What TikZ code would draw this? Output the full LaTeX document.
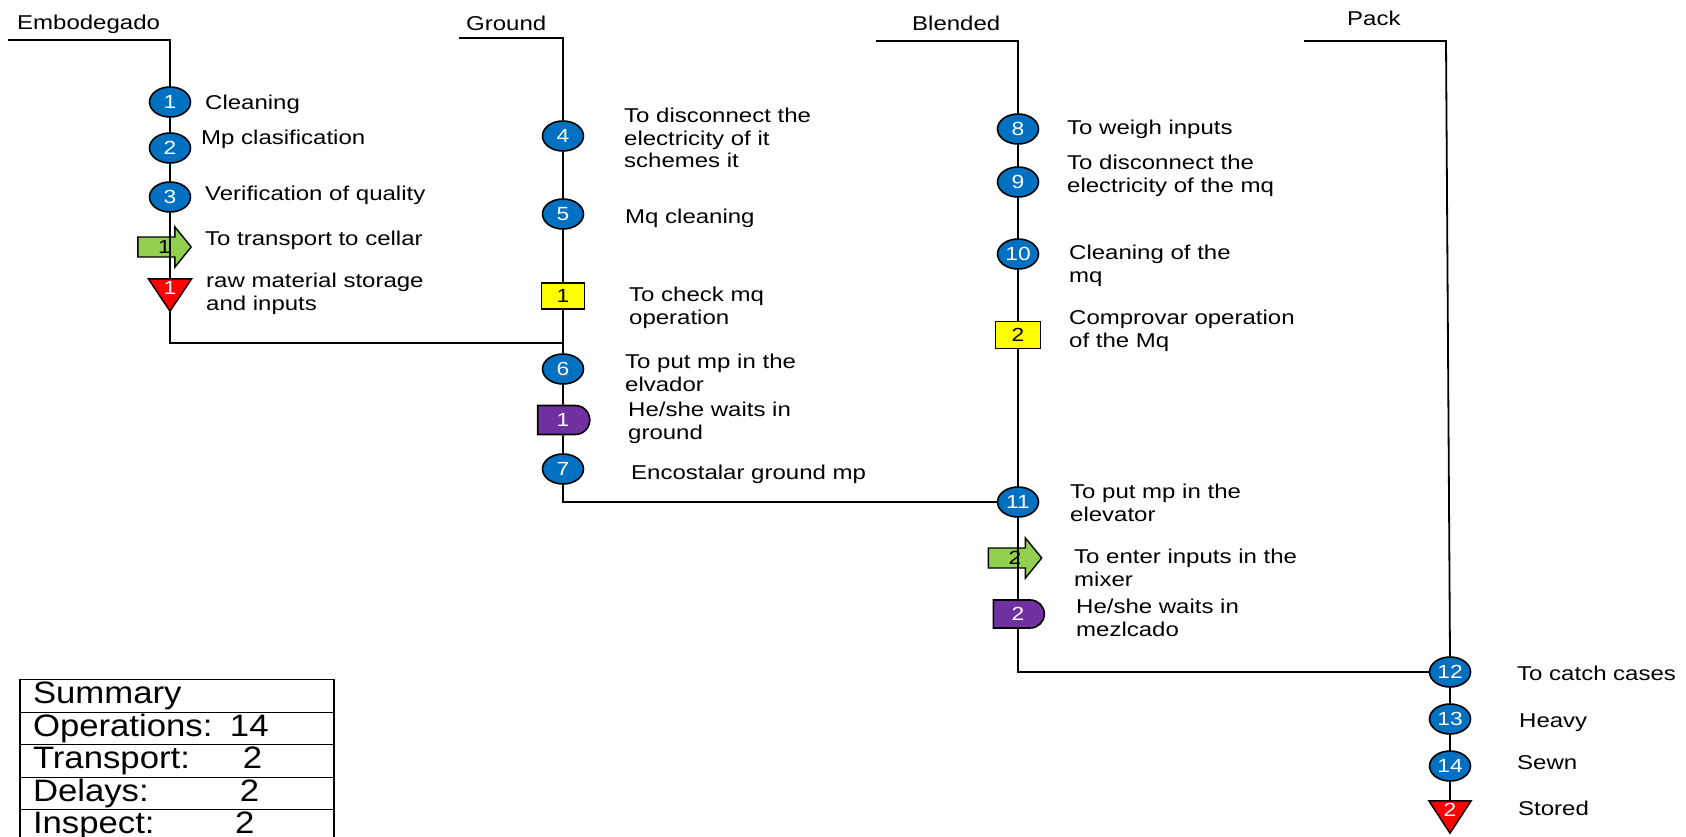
\documentclass[tikz,border=0pt]{standalone}
\usepackage{fontspec}
\setmainfont{Liberation Sans}
\newfontfamily\stretchfont[FakeStretch=1.2]{Liberation Sans}
\newfontfamily\tblfont[FakeStretch=1.12]{Liberation Sans}
\usetikzlibrary{shapes.geometric,shapes.misc,calc}
\pgfdeclarelayer{background}
\pgfsetlayers{background,main}
\definecolor{opblue}{HTML}{0070C0}
\definecolor{trgreen}{HTML}{92D050}
\definecolor{inyellow}{HTML}{FFFF00}
\definecolor{dlpurple}{HTML}{7030A0}
\definecolor{stred}{HTML}{FF0000}
\newcommand{\labsize}{\fontsize{20}{22.5}\selectfont\stretchfont}
\newcommand{\numsize}{\fontsize{19}{19}\selectfont\stretchfont}
\newcommand{\tabsize}{\fontsize{31}{31}\selectfont\tblfont}
\tikzset{
  conn/.style={line width=1.8pt, draw=black},
  oper/.style={ellipse, draw=black, line width=1.6pt, fill=opblue, minimum width=41pt, minimum height=30pt, inner sep=0pt, text=white, font=\numsize},
  insp/.style={rectangle, draw=black, line width=1.6pt, fill=inyellow, minimum width=43pt, minimum height=26pt, inner sep=0pt, text=black, font=\numsize},
  delayd/.style={rounded rectangle, rounded rectangle left arc=none, draw=black, line width=1.6pt, fill=dlpurple, minimum width=52pt, minimum height=29pt, inner sep=0pt, text=white, font=\numsize},
  transbox/.style={rectangle, minimum width=53pt, minimum height=40pt, inner sep=0pt, text=black, font=\numsize},
  storebox/.style={rectangle, minimum width=43pt, minimum height=32pt, inner sep=0pt, text depth=15pt, text=white, font=\numsize},
  transfill/.style={fill=trgreen, draw=black, line width=1.4pt, line join=miter},
  storefill/.style={fill=stred, draw=black, line width=1.4pt, line join=miter},
  lab/.style={anchor=west, align=left, inner sep=0pt, font=\labsize},
  tabrow/.style={draw=black, line width=1.4pt, minimum width=314pt, minimum height=32.5pt, inner xsep=13pt, inner ysep=0pt, text width=288pt, align=left, font=\tabsize},
}
\begin{document}
\begin{tikzpicture}[x=1pt,y=-1pt]
\begin{pgfonlayer}{background}
\fill[white] (0,0) rectangle (1686,837);
\end{pgfonlayer}
\useasboundingbox (0,0) rectangle (1686,837);

% ---------- headers ----------
\node[lab] (hE) at (17,24) {Embodegado};
\node[lab] (hG) at (466,23) {Ground};
\node[lab] (hB) at (912,23) {Blended};
\node[lab] (hP) at (1347,18) {Pack};
\coordinate (eh) at (8,40);   \coordinate (ec) at (170,40);
\coordinate (gh) at (459,38); \coordinate (gc) at (563,38);
\coordinate (bh) at (876,41); \coordinate (bc) at (1018,41);
\coordinate (ph) at (1304,41); \coordinate (pc) at (1446,41);

% ---------- Embodegado ----------
\node[oper] (c1) at (170,102) {1};
\node[oper] (c2) at (170,148) {2};
\node[oper] (c3) at (170,197) {3};
\node[transbox] (a1) at (164.5,247) {1};
\node[storebox] (s1) at (170,295) {1};
\coordinate (j1) at (563,343);

% ---------- Ground ----------
\node[oper] (c4) at (563,136) {4};
\node[oper] (c5) at (563,214) {5};
\node[insp] (q1) at (563,296) {1};
\node[oper] (c6) at (563,369) {6};
\node[delayd] (d1) at (563,420) {1};
\node[oper] (c7) at (563,469) {7};

% ---------- Blended ----------
\node[oper] (c8) at (1018,129) {8};
\node[oper] (c9) at (1018,182) {9};
\node[oper] (c10) at (1018,254) {10};
\node[insp, minimum width=45pt, minimum height=27pt] (q2) at (1018,335) {2};
\node[oper] (c11) at (1018,502) {11};
\node[transbox] (a2) at (1015,558) {2};
\node[delayd, minimum width=51pt, minimum height=28pt] (d2) at (1018,614) {2};

% ---------- Pack ----------
\node[oper] (c12) at (1450,672) {12};
\node[oper] (c13) at (1450,719) {13};
\node[oper] (c14) at (1450,766) {14};
\node[storebox, minimum width=42pt] (s2) at (1450,817) {2};

% ---------- symbol bodies (behind the numbers) ----------
\begin{pgfonlayer}{background}
\foreach \a in {a1,a2}{
  \filldraw[transfill] ($(\a.west)+(0,-10)$) -- ($(\a.west)+(37,-10)$) -- ($(\a.north west)+(37,0)$)
    -- (\a.east) -- ($(\a.south west)+(37,0)$) -- ($(\a.west)+(37,10)$) -- ($(\a.west)+(0,10)$) -- cycle;
}
\foreach \s in {s1,s2}{
  \filldraw[storefill] (\s.north west) -- (\s.north east) -- (\s.south) -- cycle;
}
\end{pgfonlayer}

% ---------- connectors ----------
\draw[conn] (eh) -- (ec) -- (c1.north);
\draw[conn] (c1) -- (c2);
\draw[conn] (c2) -- (c3);
\draw[conn] (c3.south) -- (c3.south |- s1.north);
\draw[conn] (s1.south) |- (j1);

\draw[conn] (gh) -- (gc) -- (c4.north);
\draw[conn] (c4) -- (c5);
\draw[conn] (c5) -- (q1);
\draw[conn] (q1) -- (c6);
\draw[conn] (c6) -- (d1);
\draw[conn] (d1) -- (c7);
\draw[conn] (c7.south) |- (c11.west);

\draw[conn] (bh) -- (bc) -- (c8.north);
\draw[conn] (c8) -- (c9);
\draw[conn] (c9) -- (c10);
\draw[conn] (c10) -- (q2);
\draw[conn] (q2) -- (c11);
\draw[conn] (c11.south) -- (c11.south |- d2.north);
\draw[conn] (d2.south) |- (c12.west);

\draw[conn] (ph) -- (pc) -- (c12.north);
\draw[conn] (c12) -- (c13);
\draw[conn] (c13) -- (c14);
\draw[conn] (c14) -- (s2.north);

% ---------- labels ----------
\node[lab] (L1) at (205,104) {Cleaning};
\node[lab] (L2) at (201,139) {Mp clasification};
\node[lab] (L3) at (205,195) {Verification of quality};
\node[lab] (L4) at (205,240) {To transport to cellar};
\node[lab] (L5) at (206,294) {raw material storage\\and inputs};
\node[lab] (L6) at (624,138) {To disconnect the\\electricity of it\\schemes it};
\node[lab] (L7) at (625,218) {Mq cleaning};
\node[lab] (L8) at (629,308) {To check mq\\operation};
\node[lab] (L9) at (625,373) {To put mp in the\\elvador};
\node[lab] (L10) at (628,423) {He/she waits in\\ground};
\node[lab] (L11) at (631,474) {Encostalar ground mp};
\node[lab] (L12) at (1067,129) {To weigh inputs};
\node[lab] (L13) at (1067,176) {To disconnect the\\electricity of the mq};
\node[lab] (L14) at (1069,266) {Cleaning of the\\mq};
\node[lab] (L15) at (1069,331) {Comprovar operation\\of the Mq};
\node[lab] (L16) at (1070,503) {To put mp in the\\elevator};
\node[lab] (L17) at (1074,568) {To enter inputs in the\\mixer};
\node[lab] (L18) at (1076,618) {He/she waits in\\mezlcado};
\node[lab] (L19) at (1517,673) {To catch cases};
\node[lab] (L20) at (1519,723) {Heavy};
\node[lab] (L21) at (1517,763) {Sewn};
\node[lab] (L22) at (1518,808) {Stored};

% ---------- summary table ----------
\node[tabrow] (r1) at (177,696) {\raisebox{-2pt}{Summary}};
\node[tabrow] (r2) at (177,728.5) {\raisebox{-2pt}{\makebox[197pt][l]{Operations:}14}};
\node[tabrow] (r3) at (177,761) {\raisebox{-2pt}{\makebox[210pt][l]{Transport:}2}};
\node[tabrow] (r4) at (177,793.5) {\raisebox{-2pt}{\makebox[207pt][l]{Delays:}2}};
\node[tabrow] (r5) at (177,826) {\raisebox{-2pt}{\makebox[202pt][l]{Inspect:}2}};
\end{tikzpicture}
\end{document}
